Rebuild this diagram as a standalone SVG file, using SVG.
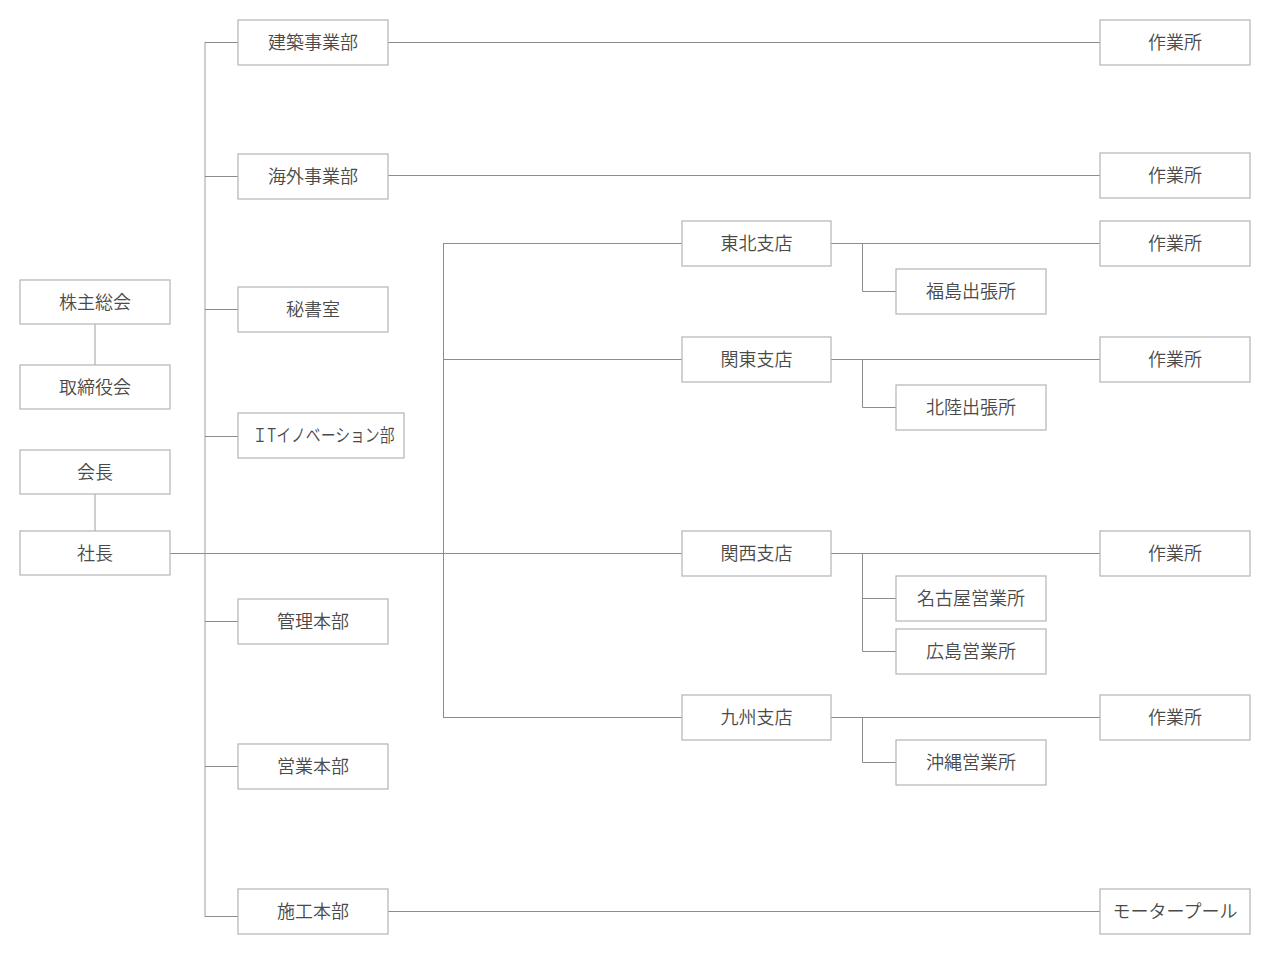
<svg xmlns="http://www.w3.org/2000/svg" width="1270" height="960" viewBox="0 0 1270 960">
<style>
.box rect{fill:#fff;stroke:#b4b4b4;stroke-width:1.2}
.box text{font-family:"Noto Sans CJK JP","Noto Sans CJK SC",sans-serif;font-size:18px;font-weight:350;fill:#4a4a4a;text-anchor:middle;dominant-baseline:central}
.trunk{stroke:#cfcfcf;stroke-width:2;fill:none}
.ln{stroke:#8c8c8c;stroke-width:1;fill:none}
</style>
<rect width="1270" height="960" fill="#fff"/>
<g id="connectors">
<line class="trunk" x1="95" y1="324" x2="95" y2="365"/>
<line class="trunk" x1="95" y1="494" x2="95" y2="531"/>
<line class="trunk" x1="205" y1="42" x2="205" y2="917"/>
<path class="ln" d="M205 42.5H238M205 176.5H238M205 309.5H238M205 436.5H238M205 621.5H238M205 766.5H238M205 916.5H238"/>
<line class="ln" x1="170" y1="553.5" x2="682" y2="553.5"/>
<line class="ln" x1="443.5" y1="243" x2="443.5" y2="718"/>
<path class="ln" d="M443 243.5H682M443 359.5H682M443 717.5H682"/>
<path class="ln" d="M388 42.5H1100M388 175.5H1100M388 911.5H1100"/>
<path class="ln" d="M831 243.5H1100M862.5 243V291.5H896"/>
<path class="ln" d="M831 359.5H1100M862.5 359V407.5H896"/>
<path class="ln" d="M831 553.5H1100M862.5 553V651.5H896M862 598.5H896"/>
<path class="ln" d="M831 717.5H1100M862.5 717V762.5H896"/>
</g>
<g id="n-kabunushi" class="box"><rect x="20" y="280" width="150" height="44"/><text x="95" y="300.5">株主総会</text></g>
<g id="n-torishimariyaku" class="box"><rect x="20" y="365" width="150" height="44"/><text x="95" y="385.5">取締役会</text></g>
<g id="n-kaicho" class="box"><rect x="20" y="450" width="150" height="44"/><text x="95" y="470.5">会長</text></g>
<g id="n-shacho" class="box"><rect x="20" y="531" width="150" height="44"/><text x="95" y="551.5">社長</text></g>
<g id="n-kenchiku" class="box"><rect x="238" y="20" width="150" height="45"/><text x="313" y="41">建築事業部</text></g>
<g id="n-kaigai" class="box"><rect x="238" y="154" width="150" height="45"/><text x="313" y="175">海外事業部</text></g>
<g id="n-hisho" class="box"><rect x="238" y="287" width="150" height="45"/><text x="313" y="308">秘書室</text></g>
<g id="n-it" class="box"><rect x="238" y="413" width="166" height="45"/><text x="323.5" y="434" textLength="142" lengthAdjust="spacingAndGlyphs">ＩTイノベーション部</text></g>
<g id="n-kanri" class="box"><rect x="238" y="599" width="150" height="45"/><text x="313" y="620">管理本部</text></g>
<g id="n-eigyo" class="box"><rect x="238" y="744" width="150" height="45"/><text x="313" y="765">営業本部</text></g>
<g id="n-seko" class="box"><rect x="238" y="889" width="150" height="45"/><text x="313" y="910">施工本部</text></g>
<g id="n-tohoku" class="box"><rect x="682" y="221" width="149" height="45"/><text x="756.5" y="242">東北支店</text></g>
<g id="n-kanto" class="box"><rect x="682" y="337" width="149" height="45"/><text x="756.5" y="358">関東支店</text></g>
<g id="n-kansai" class="box"><rect x="682" y="531" width="149" height="45"/><text x="756.5" y="552">関西支店</text></g>
<g id="n-kyushu" class="box"><rect x="682" y="695" width="149" height="45"/><text x="756.5" y="716">九州支店</text></g>
<g id="n-fukushima" class="box"><rect x="896" y="269" width="150" height="45"/><text x="971" y="290">福島出張所</text></g>
<g id="n-hokuriku" class="box"><rect x="896" y="385" width="150" height="45"/><text x="971" y="406">北陸出張所</text></g>
<g id="n-nagoya" class="box"><rect x="896" y="576" width="150" height="45"/><text x="971" y="597">名古屋営業所</text></g>
<g id="n-hiroshima" class="box"><rect x="896" y="629" width="150" height="45"/><text x="971" y="650">広島営業所</text></g>
<g id="n-okinawa" class="box"><rect x="896" y="740" width="150" height="45"/><text x="971" y="761">沖縄営業所</text></g>
<g id="n-sagyo1" class="box"><rect x="1100" y="20" width="150" height="45"/><text x="1175" y="41">作業所</text></g>
<g id="n-sagyo2" class="box"><rect x="1100" y="153" width="150" height="45"/><text x="1175" y="174">作業所</text></g>
<g id="n-sagyo3" class="box"><rect x="1100" y="221" width="150" height="45"/><text x="1175" y="242">作業所</text></g>
<g id="n-sagyo4" class="box"><rect x="1100" y="337" width="150" height="45"/><text x="1175" y="358">作業所</text></g>
<g id="n-sagyo5" class="box"><rect x="1100" y="531" width="150" height="45"/><text x="1175" y="552">作業所</text></g>
<g id="n-sagyo6" class="box"><rect x="1100" y="695" width="150" height="45"/><text x="1175" y="716">作業所</text></g>
<g id="n-motorpool" class="box"><rect x="1100" y="889" width="150" height="45"/><text x="1175" y="910">モータープール</text></g>
</svg>
